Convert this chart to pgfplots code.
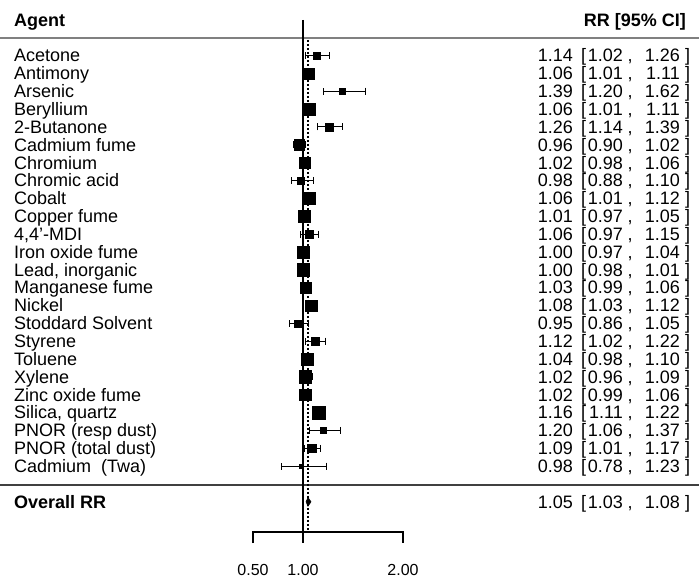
\documentclass[border=0pt]{standalone}
\usepackage{pgfplots}
\pgfplotsset{compat=1.18}
\usepackage{pgfplotstable}
\usepackage{fontspec}
\setmainfont{Liberation Sans}

\pgfplotstableread[col sep=semicolon]{
row;agent;rr;lo;hi;sz
24;Acetone;1.14;1.02;1.26;3.5
23;Antimony;1.06;1.01;1.11;5.5
22;Arsenic;1.39;1.20;1.62;2.8
21;Beryllium;1.06;1.01;1.11;6.0
20;2-Butanone;1.26;1.14;1.39;3.8
19;Cadmium fume;0.96;0.90;1.02;5.2
18;Chromium;1.02;0.98;1.06;5.6
17;Chromic acid;0.98;0.88;1.10;3.4
16;Cobalt;1.06;1.01;1.12;5.8
15;Copper fume;1.01;0.97;1.05;5.9
14;4,4'-MDI;1.06;0.97;1.15;3.9
13;Iron oxide fume;1.00;0.97;1.04;5.9
12;Lead, inorganic;1.00;0.98;1.01;6.2
11;Manganese fume;1.03;0.99;1.06;5.6
10;Nickel;1.08;1.03;1.12;5.7
9;Stoddard Solvent;0.95;0.86;1.05;3.5
8;Styrene;1.12;1.02;1.22;3.9
7;Toluene;1.04;0.98;1.10;6.1
6;Xylene;1.02;0.96;1.09;6.3
5;Zinc oxide fume;1.02;0.99;1.06;5.9
4;Silica, quartz;1.16;1.11;1.22;6.4
3;PNOR (resp dust);1.20;1.06;1.37;3.0
2;PNOR (total dust);1.09;1.01;1.17;4.4
1;Cadmium~~(Twa);0.98;0.78;1.23;2.3
}\data

\begin{document}
\begin{tikzpicture}
\begin{axis}[
  width=699pt, height=580pt, scale only axis,
  xmin=-2.03, xmax=4.96, ymin=-5.38, ymax=27.11,
  hide axis, clip=false,
  txt/.style={only marks, mark=none, draw=none,
    nodes near coords, point meta=explicit symbolic,
    every node near coord/.append style={inner sep=0pt, yshift=-6.4pt,
      font=\fontsize{18}{18}\selectfont, text=black}},
]
% header line and separator
\addplot[gray, line width=2.2pt] coordinates {(-2.03,24.98) (4.96,24.98)};
\addplot[black!75, line width=1.5pt] coordinates {(-2.03,-0.06) (4.96,-0.06)};
% reference lines
\addplot[black, line width=1.3pt] coordinates {(1,25.99) (1,-3.31)};
\addplot[black, line width=1.5pt, dash pattern=on 2pt off 2pt] coordinates {(1.05,24.87) (1.05,-2.69)};
% x axis
\addplot[black, line width=1.3pt] coordinates {(0.5,-3.31) (0.5,-2.69) (2,-2.69) (2,-3.31)};
% estimates with CIs
\addplot[only marks, mark=square*, black,
  scatter, scatter/use mapped color={draw=black, fill=black},
  visualization depends on={\thisrow{sz} \as \msz},
  scatter/@pre marker code/.append style={/tikz/mark size=\msz pt},
  error bars/.cd, x dir=both, x explicit,
  error mark=|,
  error bar style={line width=1pt, black},
  error mark options={line width=1pt, mark size=3.5pt, black}]
  table[x=rr, y=row,
    x error plus expr=\thisrow{hi}-\thisrow{rr},
    x error minus expr=\thisrow{rr}-\thisrow{lo}] {\data};
% overall diamond
\addplot[fill=black, draw=black, line width=0.5pt] coordinates {(1.03,-1) (1.05,-0.75) (1.08,-1) (1.05,-1.25)} -- cycle;
% left labels
\addplot[txt, every node near coord/.append style={anchor=base west}]
  table[x expr=-1.89, y=row, meta=agent] {\data};
% right columns
\addplot[txt, every node near coord/.append style={anchor=base east}]
  table[x expr=3.70, y=row, meta=rr] {\data};
\addplot[txt, nodes near coords={[}, every node near coord/.append style={anchor=base}]
  table[x expr=3.805, y=row, meta=rr] {\data};
\addplot[txt, every node near coord/.append style={anchor=base east}]
  table[x expr=4.20, y=row, meta=lo] {\data};
\addplot[txt, nodes near coords={,}, every node near coord/.append style={anchor=base}]
  table[x expr=4.27, y=row, meta=rr] {\data};
\addplot[txt, every node near coord/.append style={anchor=base east}]
  table[x expr=4.77, y=row, meta=hi] {\data};
\addplot[txt, nodes near coords={]}, every node near coord/.append style={anchor=base}]
  table[x expr=4.845, y=row, meta=rr] {\data};
% header and overall texts
\node[anchor=base west, inner sep=0pt, font=\fontsize{18}{18}\selectfont\bfseries] at (axis cs:-1.89,25.99) [yshift=-6.4pt] {Agent};
\node[anchor=base east, inner sep=0pt, font=\fontsize{18}{18}\selectfont\bfseries] at (axis cs:4.83,25.99) [yshift=-6.4pt] {RR [95\% CI]};
\node[anchor=base west, inner sep=0pt, font=\fontsize{18}{18}\selectfont\bfseries] at (axis cs:-1.89,-1) [yshift=-6.4pt] {Overall RR};
\node[anchor=base east, inner sep=0pt, font=\fontsize{18}{18}\selectfont] at (axis cs:3.70,-1) [yshift=-6.4pt] {1.05};
\node[anchor=base, inner sep=0pt, font=\fontsize{18}{18}\selectfont] at (axis cs:3.805,-1) [yshift=-6.4pt] {[};
\node[anchor=base east, inner sep=0pt, font=\fontsize{18}{18}\selectfont] at (axis cs:4.20,-1) [yshift=-6.4pt] {1.03};
\node[anchor=base, inner sep=0pt, font=\fontsize{18}{18}\selectfont] at (axis cs:4.27,-1) [yshift=-6.4pt] {,};
\node[anchor=base east, inner sep=0pt, font=\fontsize{18}{18}\selectfont] at (axis cs:4.77,-1) [yshift=-6.4pt] {1.08};
\node[anchor=base, inner sep=0pt, font=\fontsize{18}{18}\selectfont] at (axis cs:4.845,-1) [yshift=-6.4pt] {]};
% tick labels
\node[anchor=base, inner sep=0pt, font=\fontsize{16}{16}\selectfont] at (axis cs:0.5,-4.82) [yshift=-5.7pt] {0.50};
\node[anchor=base, inner sep=0pt, font=\fontsize{16}{16}\selectfont] at (axis cs:1.0,-4.82) [yshift=-5.7pt] {1.00};
\node[anchor=base, inner sep=0pt, font=\fontsize{16}{16}\selectfont] at (axis cs:2.0,-4.82) [yshift=-5.7pt] {2.00};
\end{axis}
\pgfresetboundingbox
\useasboundingbox (current axis.south west) rectangle (current axis.north east);
\end{tikzpicture}
\end{document}
